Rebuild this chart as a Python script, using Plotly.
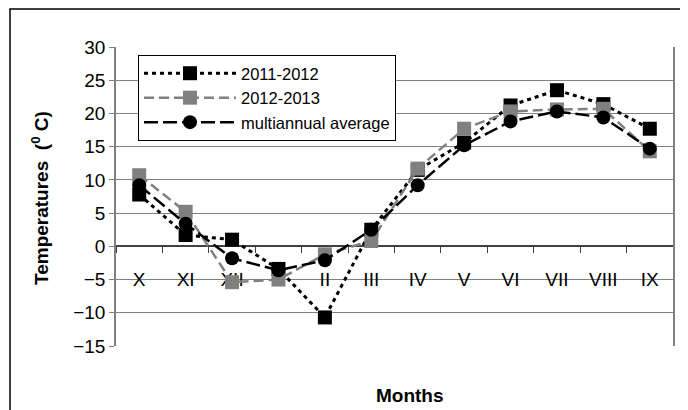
import plotly.graph_objects as go

months = ["X", "XI", "XII", "I", "II", "III", "IV", "V", "VI", "VII", "VIII", "IX"]
t_2011_2012 = [7.8, 1.7, 1.0, -3.4, -10.7, 2.5, 11.5, 15.6, 21.2, 23.5, 21.4, 17.7]
t_2012_2013 = [10.7, 5.2, -5.4, -5.0, -1.2, 0.8, 11.7, 17.7, 20.3, 20.6, 20.7, 14.3]
t_average = [9.2, 3.4, -1.8, -3.6, -2.1, 2.5, 9.2, 15.2, 18.8, 20.3, 19.4, 14.7]
y_ticks = [-15, -10, -5, 0, 5, 10, 15, 20, 25, 30]

FONT = "Liberation Sans, Arial, sans-serif"
OFF = 8  # page body margin offset
W, H = 688 - OFF, 410 - OFF
ML, MR, MT, MB = 116 - OFF, 15, 47 - OFF, 64
PW, PH = W - ML - MR, H - MT - MB


def px_x(p):
    return (p - OFF - ML) / PW


def px_y(p):
    return (H - MB - (p - OFF)) / PH


fig = go.Figure()
fig.add_trace(go.Scatter(
    x=months, y=t_2011_2012, name="2011-2012", mode="lines+markers",
    line=dict(color="black", width=3, dash="4px,4px"),
    marker=dict(symbol="square", size=14, color="black"),
))
fig.add_trace(go.Scatter(
    x=months, y=t_2012_2013, name="2012-2013", mode="lines+markers",
    line=dict(color="#808080", width=2.5, dash="10px,5px"),
    marker=dict(symbol="square", size=14, color="#808080"),
))
fig.add_trace(go.Scatter(
    x=months, y=t_average, name="multiannual average", mode="lines+markers",
    line=dict(color="black", width=2.5, dash="14px,5px"),
    marker=dict(symbol="circle", size=14, color="black"),
))

fig.update_layout(
    width=W, height=H,
    margin=dict(l=ML, r=MR, t=MT, b=MB),
    paper_bgcolor="white", plot_bgcolor="white",
    font=dict(family=FONT, size=19, color="black"),
    showlegend=True,
    legend=dict(
        x=px_x(138), y=px_y(55), xanchor="left", yanchor="top",
        bordercolor="black", borderwidth=1, bgcolor="white",
        font=dict(size=16.5), itemwidth=92, tracegroupgap=0,
    ),
    xaxis=dict(
        type="category", anchor="free", position=1/3, range=[-0.5, 11.5],
        showline=True, linecolor="#404040", linewidth=1.5,
        ticks="outside", tickson="boundaries", ticklen=6, tickcolor="#404040",
        ticklabelstandoff=16, showgrid=False, layer="below traces",
        tickfont=dict(size=19),
    ),
    yaxis=dict(
        range=[-15, 30], tickvals=y_ticks, showgrid=True, gridcolor="#808080",
        gridwidth=1, zeroline=False, showline=True, linecolor="#808080",
        linewidth=1.5, mirror=True, ticks="outside", ticklen=5,
        tickcolor="#808080", tickfont=dict(size=19),
    ),
    annotations=[
        dict(text="<b>Months</b>", x=px_x(410), y=px_y(395), xref="paper",
             yref="paper", showarrow=False, font=dict(size=19),
             xanchor="center", yanchor="middle"),
        dict(text="<b>Temperatures&nbsp; (<sup>0</sup> C)</b>", x=px_x(40),
             y=px_y(198), xref="paper", yref="paper", showarrow=False,
             textangle=-90, font=dict(size=19), xanchor="center",
             yanchor="middle"),
    ],
    shapes=[
        dict(type="rect", xref="paper", yref="paper",
             x0=px_x(10), x1=px_x(720), y0=px_y(440), y1=px_y(9),
             line=dict(color="black", width=1.5), fillcolor="rgba(0,0,0,0)",
             layer="below"),
    ],
)

fig.write_html("out.html")
